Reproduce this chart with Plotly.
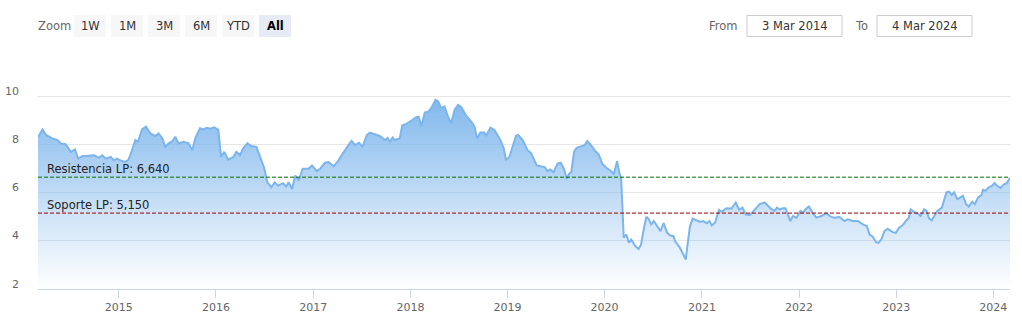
import plotly.graph_objects as go

# ---------------- data ----------------
dates = [
    "2014-03-03", "2014-03-20", "2014-04-02", "2014-04-26", "2014-05-15", "2014-05-28", "2014-06-15",
    "2014-07-04", "2014-07-20", "2014-08-01", "2014-08-16", "2014-09-10", "2014-09-30", "2014-10-17",
    "2014-10-31", "2014-11-12", "2014-12-01", "2014-12-13", "2014-12-25",
    "2015-01-07", "2015-01-23", "2015-02-04", "2015-02-13", "2015-03-04", "2015-03-14", "2015-03-29",
    "2015-04-13", "2015-04-29", "2015-05-18", "2015-05-30", "2015-06-14", "2015-06-24", "2015-07-07",
    "2015-07-19", "2015-08-01", "2015-08-13", "2015-09-01", "2015-09-20", "2015-10-04", "2015-10-15",
    "2015-11-02", "2015-11-15", "2015-11-27", "2015-12-10", "2015-12-26",
    "2016-01-10", "2016-01-20", "2016-02-01", "2016-02-16", "2016-03-06", "2016-03-18", "2016-03-31",
    "2016-04-12", "2016-04-28", "2016-05-13", "2016-06-01", "2016-06-18", "2016-06-30", "2016-07-12",
    "2016-07-27", "2016-08-09", "2016-08-21", "2016-09-09", "2016-09-21", "2016-09-30", "2016-10-13",
    "2016-10-25", "2016-11-07", "2016-11-22", "2016-12-14", "2016-12-27",
    "2017-01-14", "2017-01-27", "2017-02-14", "2017-02-27", "2017-03-18", "2017-04-06", "2017-04-15",
    "2017-05-13", "2017-05-25", "2017-06-07", "2017-06-22", "2017-07-05", "2017-07-21", "2017-08-02",
    "2017-08-21", "2017-09-08", "2017-09-27", "2017-10-07", "2017-10-16", "2017-10-26", "2017-11-03",
    "2017-11-22", "2017-12-01", "2017-12-17",
    "2018-01-05", "2018-01-23", "2018-02-01", "2018-02-11", "2018-02-24", "2018-03-11", "2018-03-24",
    "2018-04-05", "2018-04-15", "2018-04-27", "2018-05-09", "2018-05-22", "2018-06-03", "2018-06-16",
    "2018-06-29", "2018-07-11", "2018-07-30", "2018-08-18", "2018-08-30", "2018-09-09", "2018-09-21",
    "2018-10-06", "2018-10-12", "2018-10-29", "2018-11-13", "2018-11-25", "2018-12-05", "2018-12-18",
    "2018-12-26",
    "2019-01-08", "2019-01-20", "2019-02-02", "2019-02-10", "2019-02-27", "2019-03-18", "2019-03-30",
    "2019-04-21", "2019-05-06", "2019-05-21", "2019-05-31", "2019-06-10", "2019-06-23", "2019-07-08",
    "2019-07-20", "2019-08-01", "2019-08-12", "2019-08-20", "2019-08-29", "2019-09-08", "2019-09-18",
    "2019-10-03", "2019-10-18", "2019-10-28", "2019-11-09", "2019-11-24", "2019-12-10", "2019-12-23",
    "2020-01-08", "2020-01-23", "2020-02-05", "2020-02-17", "2020-02-26", "2020-03-03", "2020-03-07",
    "2020-03-13", "2020-03-23", "2020-04-01", "2020-04-10", "2020-04-26", "2020-05-08", "2020-05-17",
    "2020-05-27", "2020-06-06", "2020-06-15", "2020-06-24", "2020-07-04", "2020-07-19", "2020-07-29",
    "2020-08-10", "2020-08-23", "2020-09-04", "2020-09-16", "2020-09-22", "2020-10-08", "2020-10-23",
    "2020-11-01", "2020-11-07", "2020-11-17", "2020-11-27", "2020-12-12", "2020-12-25",
    "2021-01-06", "2021-01-19", "2021-01-29", "2021-02-07", "2021-02-19", "2021-03-06", "2021-03-16",
    "2021-04-03", "2021-04-22", "2021-05-08", "2021-05-21", "2021-06-02", "2021-06-14", "2021-06-29",
    "2021-07-18", "2021-08-06", "2021-08-25", "2021-09-06", "2021-09-19", "2021-10-01", "2021-10-10",
    "2021-10-20", "2021-11-01", "2021-11-11", "2021-11-20", "2021-11-29", "2021-12-09", "2021-12-22",
    "2022-01-06", "2022-01-16", "2022-01-28", "2022-02-07", "2022-02-20", "2022-03-07", "2022-03-26",
    "2022-04-13", "2022-05-02", "2022-05-14", "2022-06-02", "2022-06-21", "2022-07-03", "2022-07-22",
    "2022-08-10", "2022-08-29", "2022-09-13", "2022-09-23", "2022-10-05", "2022-10-18", "2022-10-27",
    "2022-11-06", "2022-11-18", "2022-11-30", "2022-12-19", "2022-12-31",
    "2023-01-12", "2023-01-25", "2023-02-06", "2023-02-18", "2023-02-24", "2023-03-09", "2023-03-22",
    "2023-04-03", "2023-04-16", "2023-04-25", "2023-05-05", "2023-05-15", "2023-05-28", "2023-06-05",
    "2023-06-22", "2023-06-30", "2023-07-09", "2023-07-19", "2023-07-29", "2023-08-07", "2023-08-19",
    "2023-08-31", "2023-09-09", "2023-09-21", "2023-10-01", "2023-10-14", "2023-10-24", "2023-11-05",
    "2023-11-18", "2023-11-23", "2023-12-03", "2023-12-15", "2023-12-28",
    "2024-01-06", "2024-01-15", "2024-01-28", "2024-02-09", "2024-02-21", "2024-03-04",
]

prices = [
    8.30, 8.62, 8.39, 8.25, 8.18, 8.04, 8.01, 7.69, 7.79, 7.41, 7.51, 7.53, 7.55, 7.45, 7.55, 7.41, 7.48, 7.34, 7.41,
    7.34, 7.27, 7.34, 7.55, 8.18, 8.11, 8.62, 8.74, 8.46, 8.35, 8.46, 8.25, 7.90, 8.04, 8.11, 8.32, 8.04, 8.11,
    8.04, 7.76, 8.25, 8.67, 8.62, 8.69, 8.65, 8.71,
    8.60, 7.48, 7.69, 7.37, 7.48, 7.69, 7.55, 7.83, 8.04, 7.93, 7.90, 7.34, 7.03, 6.43, 6.22, 6.43, 6.29, 6.39,
    6.25, 6.43, 6.15, 6.71, 6.50, 6.99, 6.99, 7.13,
    6.89, 6.99, 7.24, 7.27, 7.09, 7.34, 7.51, 7.97, 8.15, 7.97, 8.07, 7.90, 8.39, 8.49, 8.43, 8.35, 8.18, 8.27,
    8.11, 8.29, 8.18, 8.25, 8.78, 8.85,
    8.99, 9.13, 9.15, 8.76, 9.32, 9.37, 9.58, 9.85, 9.79, 9.51, 9.58, 9.16, 8.88, 9.43, 9.64, 9.55, 9.18, 8.95,
    8.74, 8.25, 8.49, 8.49, 8.35, 8.70, 8.60, 8.39, 8.18, 7.83, 7.37,
    7.48, 7.90, 8.36, 8.39, 8.18, 7.75, 7.65, 7.13, 7.10, 7.06, 6.89, 6.96, 6.85, 7.20, 7.24, 6.99, 6.57, 6.78,
    6.85, 7.69, 7.86, 7.90, 7.97, 8.14, 8.00, 7.76, 7.58, 7.20,
    7.02, 6.92, 6.78, 7.30, 6.78, 6.64, 5.45, 4.13, 4.26, 3.92, 4.05, 3.77, 3.66, 3.85, 4.47, 5.00, 4.90, 4.68,
    4.82, 4.54, 4.40, 4.73, 4.33, 4.22, 4.19, 3.98, 3.75, 3.43, 3.22, 3.77, 4.61, 4.92, 4.85, 4.78,
    4.82, 4.73, 4.82, 4.64, 4.75, 5.28, 5.20, 5.35, 5.34, 5.59, 5.28, 5.38, 5.10, 5.06, 5.28, 5.52, 5.59, 5.45,
    5.31, 5.24, 5.38, 5.30, 5.35, 5.35, 5.10, 4.82, 5.03, 4.96,
    5.24, 5.17, 5.34, 5.42, 5.17, 4.96, 5.03, 5.14, 4.99, 4.96, 4.99, 4.82, 4.89, 4.82, 4.82, 4.68, 4.61, 4.26,
    4.17, 3.94, 3.92, 4.05, 4.40, 4.50, 4.36, 4.33,
    4.54, 4.64, 4.82, 4.96, 5.31, 5.20, 5.14, 5.03, 5.31, 5.24, 4.92, 4.85, 5.10, 5.24, 5.38, 5.73, 6.01, 6.04,
    5.90, 6.01, 5.73, 5.80, 5.87, 5.52, 5.42, 5.62, 5.52, 5.80, 5.90, 6.12, 6.08, 6.22, 6.29,
    6.40, 6.29, 6.19, 6.33, 6.40, 6.62,
]

y_ticks = [2, 4, 6, 8, 10]
resistance_label = "Resistencia LP: 6,640"
resistance_value = 6.64
support_label = "Soporte LP: 5,150"
support_value = 5.15
zoom_buttons = ["1W", "1M", "3M", "6M", "YTD", "All"]
active_button = "All"
from_text = "3 Mar 2014"
to_text = "4 Mar 2024"

# ---------------- layout geometry ----------------
W, H = 1022, 317
ML, MR, MT, MB = 38, 12, 48, 28
PW, PH = W - ML - MR, H - MT - MB
FONT = "DejaVu Sans"


def px(x):
    return (x - ML) / PW


def py(y):
    return (H - MB - y) / PH


fig = go.Figure()
fig.add_trace(go.Scatter(
    x=dates, y=prices, mode="lines",
    line=dict(color="#7cb5ec", width=2),
    fill="tozeroy",
    fillgradient=dict(
        type="vertical",
        colorscale=[[0, "rgba(124,181,236,0)"], [1, "rgba(124,181,236,0.95)"]],
        start=2, stop=max(prices),
    ),
    hoverinfo="x+y", showlegend=False,
))

shapes = []
annotations = []

# plot lines
for val, col in [(resistance_value, "#007000"), (support_value, "#a00000")]:
    shapes.append(dict(type="line", xref="paper", x0=0, x1=1, yref="y", y0=val, y1=val,
                       line=dict(color=col, width=1, dash="4px,2px"), layer="above"))
for txt, val in [(resistance_label, resistance_value), (support_label, support_value)]:
    annotations.append(dict(text=txt, xref="paper", x=0, xanchor="left", xshift=7,
                            yref="y", y=val, yanchor="middle", yshift=8, showarrow=False,
                            font=dict(family=FONT, size=11.5, color="#222222")))

# y-axis labels (above gridlines, Highcharts style)
for v in y_ticks:
    annotations.append(dict(text=str(v), xref="paper", x=0, xanchor="right", xshift=-17,
                            yref="y", y=v, yanchor="middle", yshift=5, showarrow=False,
                            font=dict(family=FONT, size=11, color="#666666")))

# range selector look-alike
annotations.append(dict(text="Zoom", xref="paper", x=px(36), xanchor="left", yref="paper", y=py(26),
                        yanchor="middle", showarrow=False, font=dict(family=FONT, size=11.5, color="#666666")))
bx = 74
for lab in zoom_buttons:
    active = lab == active_button
    shapes.append(dict(type="rect", xref="paper", yref="paper", x0=px(bx), x1=px(bx + 32),
                       y0=py(37), y1=py(15), fillcolor="#e6ebf5" if active else "#f7f7f7",
                       line=dict(width=0), layer="above"))
    annotations.append(dict(text=f"<b>{lab}</b>" if active else lab, xref="paper", x=px(bx + 16),
                            xanchor="center", yref="paper", y=py(26), yanchor="middle", showarrow=False,
                            font=dict(family=FONT, size=11.5, color="#000000" if active else "#333333")))
    bx += 37

annotations.append(dict(text="From", xref="paper", x=px(740), xanchor="right", yref="paper", y=py(26),
                        yanchor="middle", showarrow=False, font=dict(family=FONT, size=11.5, color="#666666")))
annotations.append(dict(text="To", xref="paper", x=px(853), xanchor="left", yref="paper", y=py(26),
                        yanchor="middle", showarrow=False, font=dict(family=FONT, size=11.5, color="#666666")))
for x0, x1, txt in [(747, 842, from_text), (877, 972, to_text)]:
    shapes.append(dict(type="rect", xref="paper", yref="paper", x0=px(x0), x1=px(x1),
                       y0=py(36.5), y1=py(15.5), fillcolor="white",
                       line=dict(color="#cccccc", width=1), layer="above"))
    annotations.append(dict(text=txt, xref="paper", x=px((x0 + x1) / 2), xanchor="center", yref="paper",
                            y=py(26), yanchor="middle", showarrow=False,
                            font=dict(family=FONT, size=11.5, color="#333333")))

fig.update_layout(
    width=W, height=H,
    margin=dict(l=ML, r=MR, t=MT, b=MB, pad=0),
    paper_bgcolor="white", plot_bgcolor="white",
    font=dict(family=FONT, size=11, color="#666666"),
    shapes=shapes, annotations=annotations,
    xaxis=dict(type="date", range=["2014-03-03", "2024-03-04"], tick0="2015-01-01", dtick="M12",
               tickformat="%Y", ticks="outside", ticklen=8, tickcolor="#ccd6eb", tickwidth=1,
               showline=True, linecolor="#ccd6eb", linewidth=1, showgrid=False, zeroline=False,
               tickfont=dict(family=FONT, size=11, color="#666666"), automargin=False, fixedrange=True),
    yaxis=dict(range=[2, 12], tick0=0, dtick=2, showgrid=True, gridcolor="#e6e6e6", gridwidth=1,
               showticklabels=False, zeroline=False, showline=False, automargin=False, fixedrange=True),
    showlegend=False,
)

fig.write_html("out.html", config={"displayModeBar": False})
